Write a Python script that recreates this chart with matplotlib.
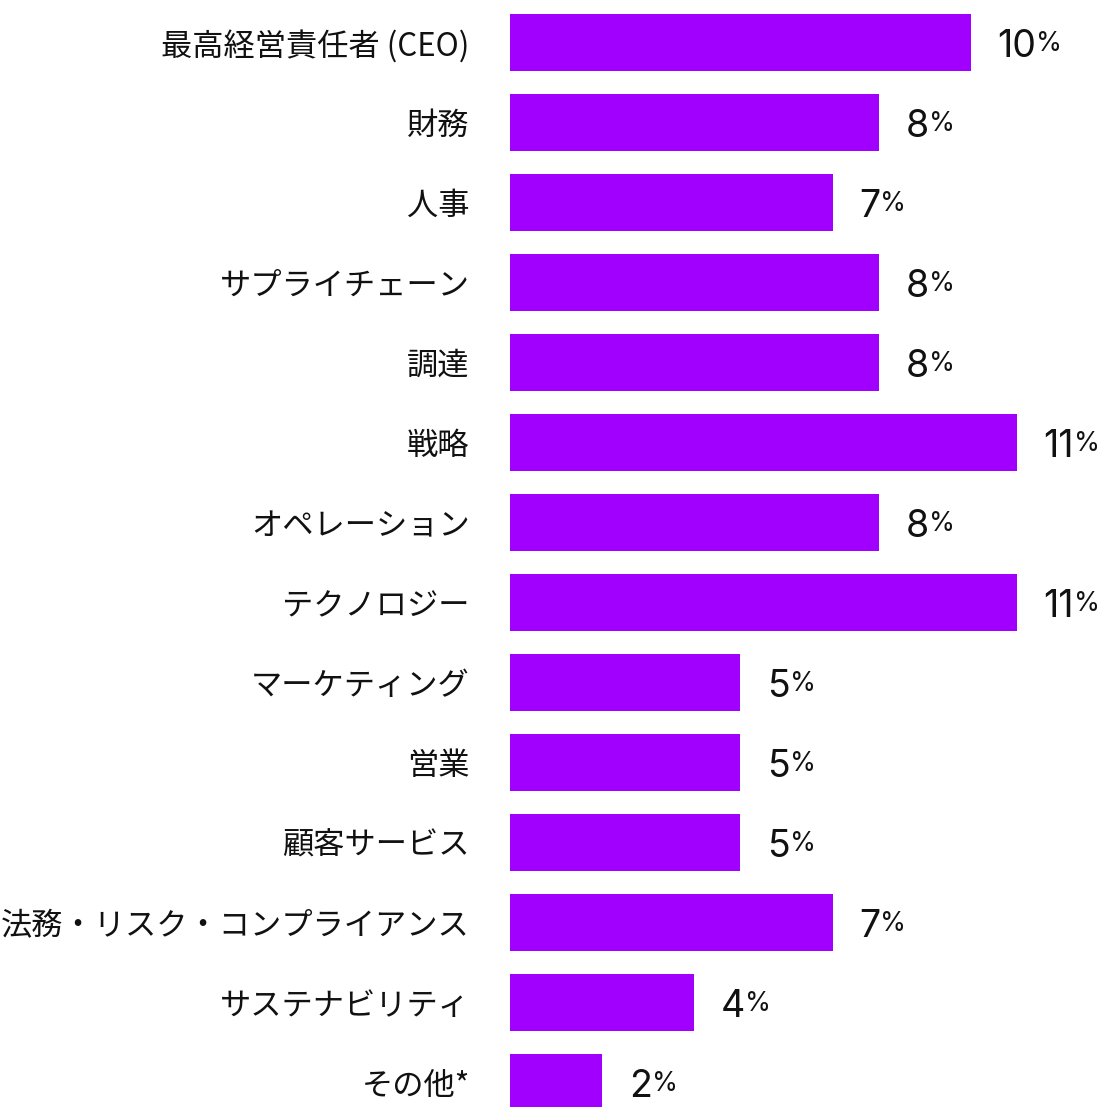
import matplotlib
matplotlib.use("Agg")
import matplotlib.pyplot as plt

plt.rcParams['font.family'] = ['Noto Sans CJK JP', 'DejaVu Sans']

# 役職ごとの割合 (%)
roles = ['最高経営責任者 (CEO)', '財務', '人事', 'サプライチェーン', '調達', '戦略',
         'オペレーション', 'テクノロジー', 'マーケティング', '営業', '顧客サービス',
         '法務・リスク・コンプライアンス', 'サステナビリティ', 'その他*']
shares = [10, 8, 7, 8, 8, 11, 8, 11, 5, 5, 5, 7, 4, 2]

bar_color = '#A100FF'

fig = plt.figure(figsize=(11.09, 11.07), dpi=100)
ax = fig.add_axes([510 / 1109, 0, 599 / 1109, 1])

pos = list(range(len(roles)))
ax.barh(pos, shares, height=0.71, color=bar_color)

ax.set_xlim(0, 13.0)
ax.set_ylim(13.306, -0.531)
ax.set_yticks(pos)
ax.set_yticklabels(roles, fontsize=22.5, color='#111111')
ax.tick_params(axis='y', length=0, pad=29)
ax.set_xticks([])
for s in ax.spines.values():
    s.set_visible(False)

# 数値ラベル: 数字の右上に小さめの%
for p, v in zip(pos, shares):
    t = ax.text(v + 0.58, p + 0.06, str(v), fontsize=27, family='Inter',
                ha='left', va='center', color='#111111')
    ax.annotate('%', xy=(1, 1), xycoords=t, xytext=(0, -1),
                textcoords='offset points', fontsize=19, family='Inter',
                ha='left', va='top', color='#111111')

fig.savefig('out.png', dpi=100)
